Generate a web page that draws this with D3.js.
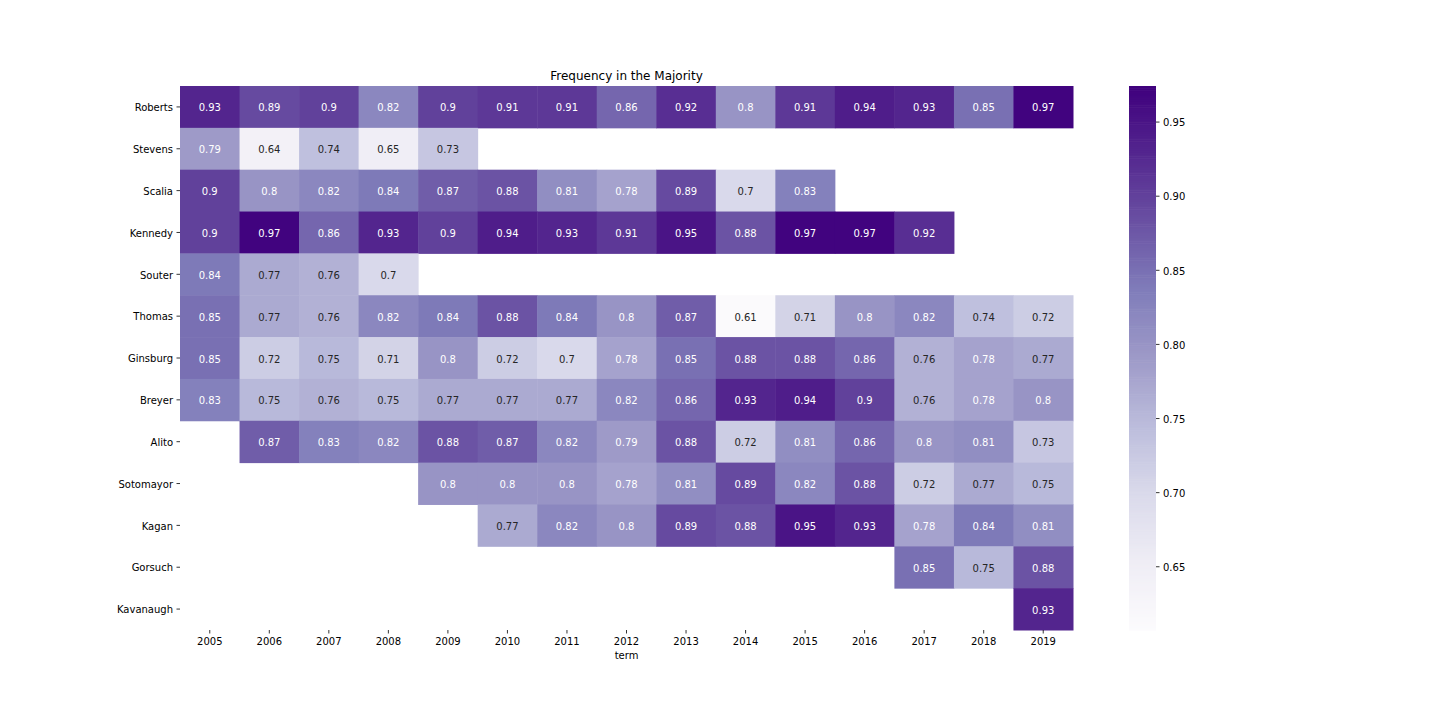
<!DOCTYPE html>
<html><head><meta charset="utf-8">
<script src="https://cdn.jsdelivr.net/npm/d3@7"></script>
<style>body{margin:0;background:#fff;} text{font-family:"DejaVu Sans",sans-serif;}</style>
</head><body>
<svg id="chart" width="1440" height="720"></svg>
<script>
const years = ["2005","2006","2007","2008","2009","2010","2011","2012","2013","2014","2015","2016","2017","2018","2019"];
const justices = ["Roberts","Stevens","Scalia","Kennedy","Souter","Thomas","Ginsburg","Breyer","Alito","Sotomayor","Kagan","Gorsuch","Kavanaugh"];
const Roberts   = [0.93,0.89,0.9,0.82,0.9,0.91,0.91,0.86,0.92,0.8,0.91,0.94,0.93,0.85,0.97];
const Stevens   = [0.79,0.64,0.74,0.65,0.73,null,null,null,null,null,null,null,null,null,null];
const Scalia    = [0.9,0.8,0.82,0.84,0.87,0.88,0.81,0.78,0.89,0.7,0.83,null,null,null,null];
const Kennedy   = [0.9,0.97,0.86,0.93,0.9,0.94,0.93,0.91,0.95,0.88,0.97,0.97,0.92,null,null];
const Souter    = [0.84,0.77,0.76,0.7,null,null,null,null,null,null,null,null,null,null,null];
const Thomas    = [0.85,0.77,0.76,0.82,0.84,0.88,0.84,0.8,0.87,0.61,0.71,0.8,0.82,0.74,0.72];
const Ginsburg  = [0.85,0.72,0.75,0.71,0.8,0.72,0.7,0.78,0.85,0.88,0.88,0.86,0.76,0.78,0.77];
const Breyer    = [0.83,0.75,0.76,0.75,0.77,0.77,0.77,0.82,0.86,0.93,0.94,0.9,0.76,0.78,0.8];
const Alito     = [null,0.87,0.83,0.82,0.88,0.87,0.82,0.79,0.88,0.72,0.81,0.86,0.8,0.81,0.73];
const Sotomayor = [null,null,null,null,0.8,0.8,0.8,0.78,0.81,0.89,0.82,0.88,0.72,0.77,0.75];
const Kagan     = [null,null,null,null,null,0.77,0.82,0.8,0.89,0.88,0.95,0.93,0.78,0.84,0.81];
const Gorsuch   = [null,null,null,null,null,null,null,null,null,null,null,null,0.85,0.75,0.88];
const Kavanaugh = [null,null,null,null,null,null,null,null,null,null,null,null,null,null,0.93];
const rowsData = [Roberts,Stevens,Scalia,Kennedy,Souter,Thomas,Ginsburg,Breyer,Alito,Sotomayor,Kagan,Gorsuch,Kavanaugh];
const cbTicks = [0.65,0.70,0.75,0.80,0.85,0.90,0.95];
const vmin = 0.607, vmax = 0.974;

const purples = ["#fcfbfd","#efedf5","#dadaeb","#bcbddc","#9e9ac8","#807dba","#6a51a3","#54278f","#3f007d"];
const cmap = d3.scaleLinear().domain(d3.range(9).map(i=>i/8)).range(purples).interpolate(d3.interpolateRgb).clamp(true);
const norm = d3.scaleLinear().domain([vmin,vmax]).range([0,1]).clamp(true);
const color = v => cmap(norm(v));

function lum(c){
  const r = d3.rgb(c);
  const f = x => { x/=255; return x<=0.03928 ? x/12.92 : Math.pow((x+0.055)/1.055,2.4); };
  return 0.2126*f(r.r)+0.7152*f(r.g)+0.0722*f(r.b);
}

const svg = d3.select("#chart");
const L=180, R=1073, T=86, B=630;
const x = d3.scaleBand().domain(years).range([L,R]);
const y = d3.scaleBand().domain(justices).range([T,B]);

const cells = [];
rowsData.forEach((row,i)=>row.forEach((v,j)=>{ if(v!==null) cells.push({j:justices[i],y:years[j],v}); }));

svg.append("g").selectAll("rect").data(cells).join("rect")
  .attr("x",d=>x(d.y)).attr("y",d=>y(d.j))
  .attr("width",x.bandwidth()+0.5).attr("height",y.bandwidth()+0.5)
  .attr("fill",d=>color(d.v));

svg.append("g").selectAll("text").data(cells).join("text")
  .attr("x",d=>x(d.y)+x.bandwidth()/2).attr("y",d=>y(d.j)+y.bandwidth()/2+1)
  .attr("text-anchor","middle").attr("dominant-baseline","central")
  .attr("font-size",10)
  .attr("fill",d=>lum(color(d.v))>0.408 ? "#262626" : "#ffffff")
  .text(d=>String(d.v));

// axes
const xAxis = d3.axisBottom(x).tickSize(3.5).tickPadding(4.5);
const gx = svg.append("g").attr("transform",`translate(0,${B})`).call(xAxis);
gx.select(".domain").remove();
gx.selectAll("text").attr("font-size",10).attr("fill","#000").attr("font-family","DejaVu Sans");
gx.selectAll("line").attr("stroke","#000").attr("stroke-width",0.8);

const yAxis = d3.axisLeft(y).tickSize(3.5).tickPadding(3.5);
const gy = svg.append("g").attr("transform",`translate(${L},0)`).call(yAxis);
gy.select(".domain").remove();
gy.selectAll("text").attr("font-size",10).attr("fill","#000").attr("font-family","DejaVu Sans").attr("dy","0.42em");
gy.selectAll("line").attr("stroke","#000").attr("stroke-width",0.8);

svg.append("text").attr("x",(L+R)/2).attr("y",659).attr("text-anchor","middle")
  .attr("font-size",10).attr("fill","#000").text("term");
svg.append("text").attr("x",(L+R)/2).attr("y",80).attr("text-anchor","middle")
  .attr("font-size",12).attr("fill","#000").text("Frequency in the Majority");

// colorbar
const CL=1129, CR=1156;
const cy = d3.scaleLinear().domain([vmin,vmax]).range([B,T]);
const n = 256;
const steps = d3.range(n).map(i=>vmin+(vmax-vmin)*(i+0.5)/n);
svg.append("g").selectAll("rect").data(steps).join("rect")
  .attr("x",CL).attr("width",CR-CL)
  .attr("y",d=>cy(d+(vmax-vmin)/n/2)).attr("height",(B-T)/n+0.6)
  .attr("fill",d=>color(d));
const cAxis = d3.axisRight(cy).tickValues(cbTicks).tickFormat(d3.format(".2f")).tickSize(3.5).tickPadding(3.5);
const gc = svg.append("g").attr("transform",`translate(${CR},0)`).call(cAxis);
gc.select(".domain").remove();
gc.selectAll("text").attr("font-size",10).attr("fill","#000").attr("font-family","DejaVu Sans").attr("dy","0.42em");
gc.selectAll("line").attr("stroke","#000").attr("stroke-width",0.8);
</script>
</body></html>
